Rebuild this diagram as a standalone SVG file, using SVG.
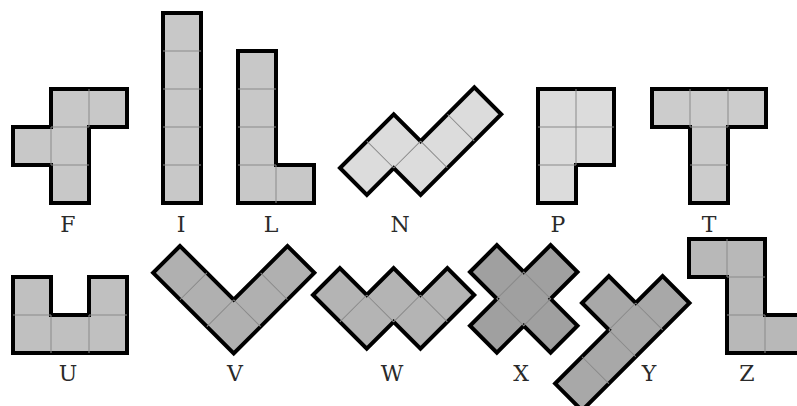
<svg xmlns="http://www.w3.org/2000/svg" width="797" height="406" viewBox="0 0 797 406">
<style>
.o{stroke:#000;stroke-width:4;stroke-linejoin:miter}
.g{fill:none;stroke:#8a8a8a;stroke-width:1}
.lbl{font-family:"DejaVu Serif","Liberation Serif",serif;font-size:22px;fill:#2a2a2a;text-anchor:middle}
</style>
<rect width="797" height="406" fill="#fff"/>
<g id="F">
<path class="o" fill="#c8c8c8" d="M51,89 H127 V127 H89 V203 H51 V165 H13 V127 H51 Z"/>
<path class="g" d="M89,89 V127 M51,127 V165 M51,127 H89 M51,165 H89"/>
<text class="lbl" x="68" y="232">F</text>
</g>
<g id="I">
<path class="o" fill="#c8c8c8" d="M163,13 H201 V203 H163 Z"/>
<path class="g" d="M163,51 H201 M163,89 H201 M163,127 H201 M163,165 H201"/>
<text class="lbl" x="181" y="232">I</text>
</g>
<g id="L">
<path class="o" fill="#c8c8c8" d="M238,51 H276 V165 H314 V203 H238 Z"/>
<path class="g" d="M238,89 H276 M238,127 H276 M238,165 H276 M276,165 V203"/>
<text class="lbl" x="271" y="232">L</text>
</g>
<g id="N">
<g transform="translate(340,168) rotate(-45)">
<path class="o" fill="#dcdcdc" d="M0,0 H76 V38 H152 V76 H38 V38 H0 Z"/>
<path class="g" d="M38,0 V38 M38,38 H76 M76,38 V76 M114,38 V76"/>
</g>
<text class="lbl" x="400" y="232">N</text>
</g>
<g id="P">
<path class="o" fill="#dcdcdc" d="M538,89 H614 V165 H576 V203 H538 Z"/>
<path class="g" d="M576,89 V165 M538,127 H614 M538,165 H576"/>
<text class="lbl" x="558" y="232">P</text>
</g>
<g id="T">
<path class="o" fill="#cccccc" d="M652,89 H766 V127 H728 V203 H690 V127 H652 Z"/>
<path class="g" d="M690,89 V127 M728,89 V127 M690,127 H728 M690,165 H728"/>
<text class="lbl" x="709" y="232">T</text>
</g>
<g id="U">
<path class="o" fill="#c0c0c0" d="M13,277 H51 V315 H89 V277 H127 V353 H13 Z"/>
<path class="g" d="M13,315 H51 M89,315 H127 M51,315 V353 M89,315 V353"/>
<text class="lbl" x="68" y="381">U</text>
</g>
<g id="V">
<g transform="translate(180,246) rotate(45)">
<path class="o" fill="#b0b0b0" d="M0,0 V38 H114 V-76 H76 V0 Z"/>
<path class="g" d="M38,0 V38 M76,0 V38 M76,0 H114 M76,-38 H114"/>
</g>
<text class="lbl" x="235" y="381">V</text>
</g>
<g id="W">
<g transform="translate(313,295) rotate(-45)">
<path class="o" fill="#b4b4b4" d="M0,0 H38 V38 H76 V76 H114 V114 H38 V76 H0 Z"/>
<path class="g" d="M0,38 H38 M38,38 V76 M38,76 H76 M76,76 V114"/>
</g>
<text class="lbl" x="392" y="381">W</text>
</g>
<g id="X">
<g transform="translate(470,272) rotate(-45)">
<path class="o" fill="#a0a0a0" d="M0,0 H38 V38 H76 V76 H38 V114 H0 V76 H-38 V38 H0 Z"/>
<rect class="g" x="0" y="38" width="38" height="38"/>
</g>
<text class="lbl" x="521" y="381">X</text>
</g>
<g id="Y">
<g transform="translate(582,303) rotate(-45)">
<path class="o" fill="#a8a8a8" d="M0,0 H38 V38 H76 V76 H-76 V38 H0 Z"/>
<path class="g" d="M0,38 H38 M38,38 V76 M0,38 V76 M-38,38 V76"/>
</g>
<text class="lbl" x="649" y="381">Y</text>
</g>
<g id="Z">
<path class="o" fill="#b8b8b8" d="M689,239 H765 V315 H803 V353 H727 V277 H689 Z"/>
<path class="g" d="M727,239 V277 M727,277 H765 M727,315 H765 M765,315 V353"/>
<text class="lbl" x="747" y="381">Z</text>
</g>
</svg>
